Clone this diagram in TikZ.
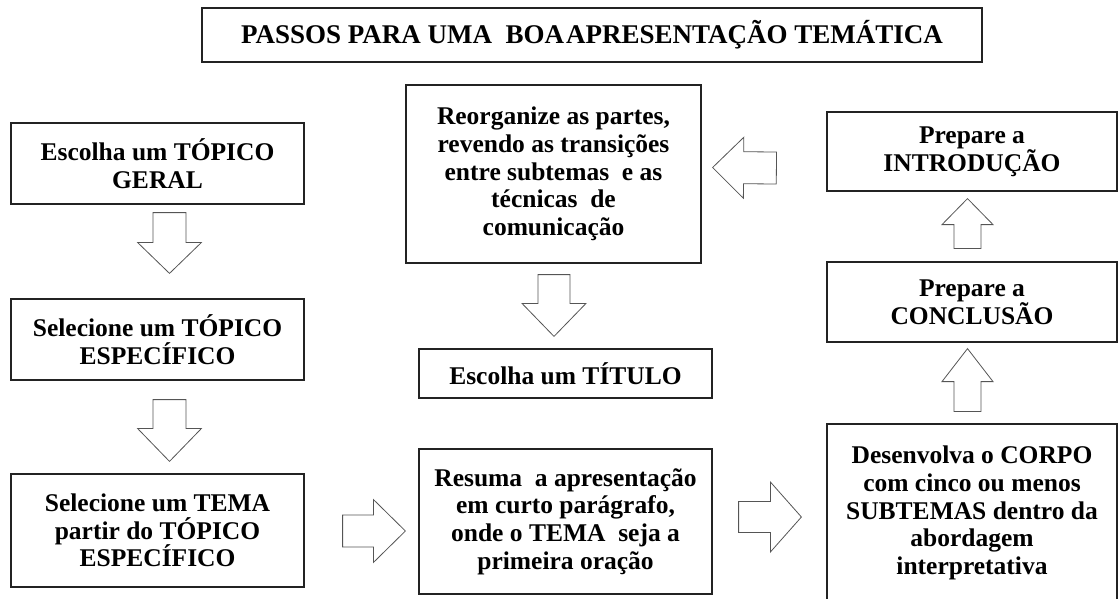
\documentclass[tikz,border=0pt]{standalone}
\usepackage{fontspec}
\setmainfont{Liberation Serif}
\usepackage{xcolor}
\usetikzlibrary{calc}

\definecolor{boxline}{RGB}{35,35,35}
\definecolor{arrowline}{RGB}{85,85,85}

\tikzset{
  box/.style={draw=boxline, line width=1.2pt, align=center, inner sep=0pt,
    font=\fontsize{25.5}{27.7}\selectfont\bfseries},
  fat/.style n args={3}{draw=arrowline, line width=0.8pt, line join=miter,
    to path={let \p1=(\tikztostart), \p2=(\tikztotarget),
      \n1={atan2(\y2-\y1,\x2-\x1)}, \p3=($(\p2)!#3!(\p1)$) in
      ($(\p1)+({\n1+90}:#1)$) -- ($(\p3)+({\n1+90}:#1)$) -- ($(\p3)+({\n1+90}:#2)$)
      -- (\p2) -- ($(\p3)+({\n1-90}:#2)$) -- ($(\p3)+({\n1-90}:#1)$)
      -- ($(\p1)+({\n1-90}:#1)$) -- cycle}},
}

\begin{document}
\begin{tikzpicture}[x=1pt,y=-1pt]
    \useasboundingbox (0,0) rectangle (1119,599);

    % title
    \node[box, line width=2pt, minimum width=780pt, minimum height=54pt,
      font=\fontsize{27}{30}\selectfont\bfseries] (title) at (592,35)
      {PASSOS PARA UMA\ \ BOA\kern2pt APRESENTAÇÃO TEMÁTICA};

    % left column
    \node[box, minimum width=293pt, minimum height=81pt] (geral) at (157.5,163.5)
      {Escolha um TÓPICO\\GERAL};
    \node[box, minimum width=293pt, minimum height=81pt] (especifico) at (157.5,339.5)
      {Selecione um TÓPICO\\ESPECÍFICO};
    \node[box, minimum width=293pt, minimum height=113pt] (tema) at (157.5,530.5)
      {Selecione um TEMA\\partir do TÓPICO\\ESPECÍFICO};

    % middle column
    \node[box, minimum width=295pt, minimum height=178pt] (reorg) at (553.5,174)
      {Reorganize as partes,\\revendo as transições\\entre subtemas\ \ e as\\técnicas\ \ de\\comunicação};
    \node[box, minimum width=293pt, minimum height=49pt] (titulo) at (565.5,373.5)
      {Escolha um TÍTULO};
    \node[box, minimum width=293pt, minimum height=145pt] (resuma) at (565.5,521.5)
      {Resuma\ \ a apresentação\\em curto parágrafo,\\onde o TEMA\ \ seja a\\primeira oração};

    % right column
    \node[box, minimum width=290pt, minimum height=79pt] (intro) at (972,151.5)
      {Prepare a\\INTRODUÇÃO};
    \node[box, minimum width=290pt, minimum height=80pt] (concl) at (972,302)
      {Prepare a\\CONCLUSÃO};
    \node[box, minimum width=290pt, minimum height=178pt] (corpo) at (972,513)
      {Desenvolva o CORPO\\com cinco ou menos\\SUBTEMAS dentro da\\abordagem\\interpretativa};

    % block arrows
    \draw[fat={16.5pt}{32pt}{31pt}] ($(geral.south)+(12,8)$) to ($(especifico.north)+(12,-25)$);
    \draw[fat={16.5pt}{32pt}{33pt}] ($(especifico.south)+(12,19)$) to ($(tema.north)+(12,-12)$);
    \draw[fat={16pt}{31.5pt}{32pt}] ($(tema.east)+(38,0.5)$) to ($(resuma.west)+(-13,9.5)$);
    \draw[fat={15.5pt}{35pt}{31pt}] ($(resuma.east)+(26,-4.5)$) to ($(corpo.west)+(-25,4)$);
    \draw[fat={16pt}{30.5pt}{31pt}] ($(intro.west)+(-50,16.5)$) to ($(reorg.east)+(11,-6.5)$);
    \draw[fat={16pt}{32pt}{33pt}] ($(reorg.south)+(0.5,11)$) to ($(titulo.north)+(-11.5,-12)$);
    \draw[fat={13.5pt}{25.5pt}{26pt}] ($(concl.north)+(-4.5,-13)$) to ($(intro.south)+(-4.5,7)$);
    \draw[fat={13.5pt}{25.5pt}{33pt}] ($(corpo.north)+(-4.5,-12)$) to ($(concl.south)+(-4.5,6)$);
\end{tikzpicture}
\end{document}
